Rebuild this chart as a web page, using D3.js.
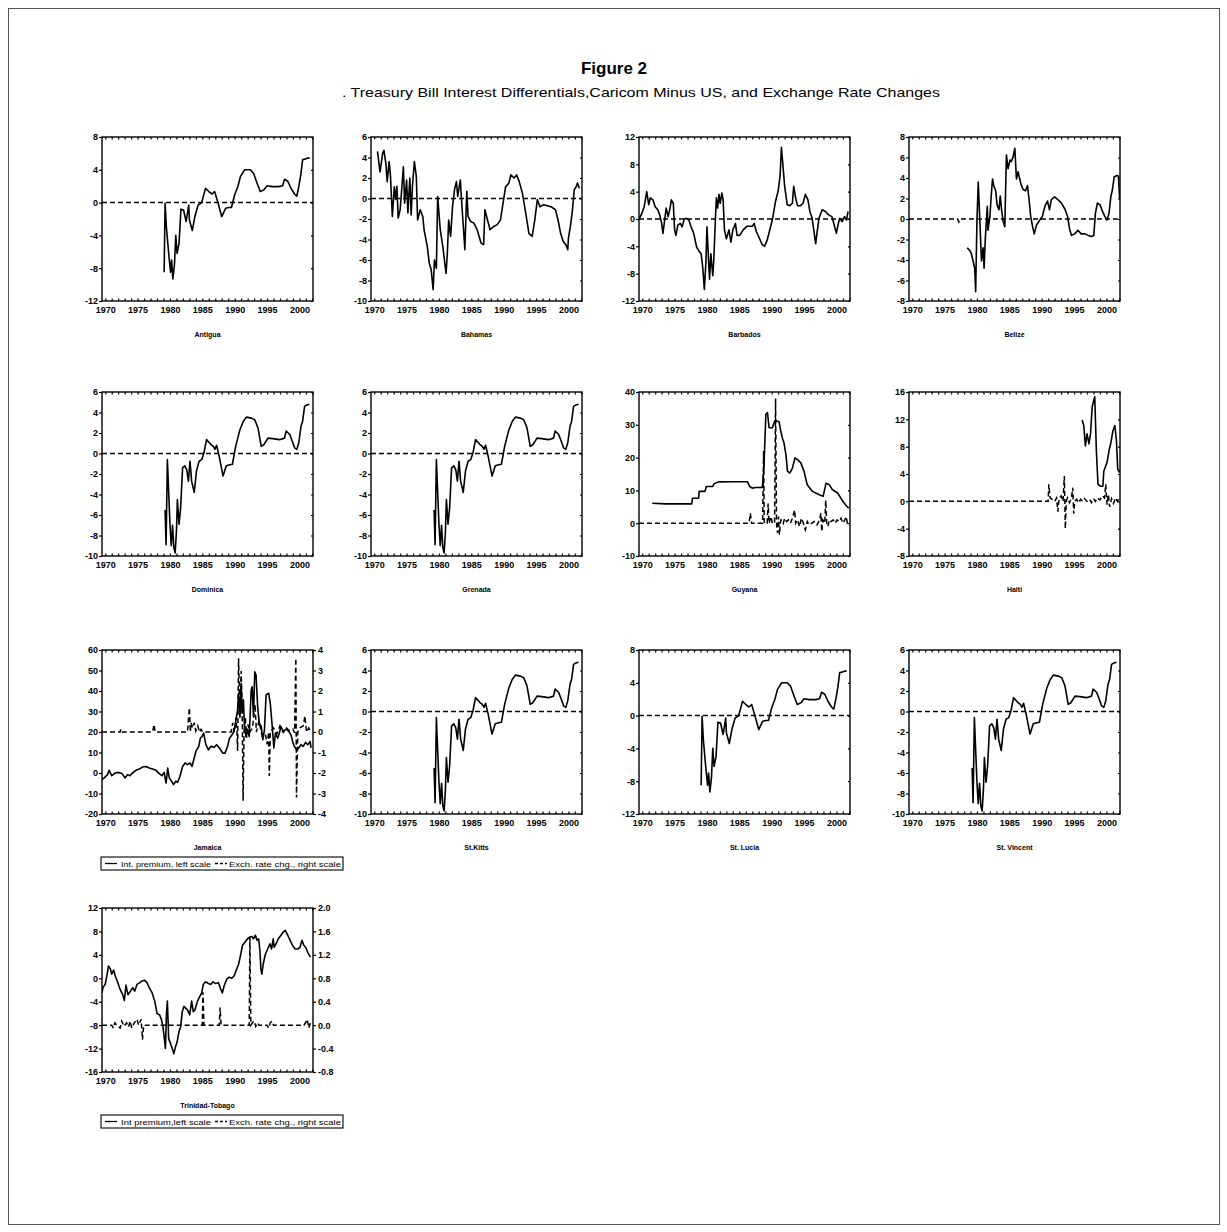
<!DOCTYPE html>
<html>
<head>
<meta charset="utf-8">
<script src="https://cdn.jsdelivr.net/npm/d3@7"></script>
<style>
  body { margin: 0; background: #fff; }
  text { font-family: "Liberation Sans", Arial, sans-serif; }
</style>
</head>
<body>
<svg width="1227" height="1232"></svg>
<script>
// ---- data: [year, value] ----
var pegged = [[1969.5, 0], [2002.1, 0]];

var antigua = [[1979.1,-8.5],[1979.25,-0.1],[1979.45,-3.0],[1979.85,-6.6],[1980.1,-8.5],[1980.25,-7.0],[1980.45,-9.3],[1980.7,-7.5],[1980.9,-4.0],[1981.1,-6.2],[1981.4,-5.0],[1981.7,-0.8],[1982.1,-0.9],[1982.5,-2.3],[1982.9,-0.3],[1983.0,-2.1],[1983.45,-3.4],[1983.85,-1.7],[1984.35,-0.3],[1984.9,0],[1985.5,1.75],[1986.0,1.35],[1986.5,1.05],[1986.9,1.35],[1987.3,0.3],[1988.0,-1.7],[1988.6,-0.7],[1989.1,-0.6],[1989.5,-0.6],[1990.0,0.95],[1990.5,2.0],[1990.9,3.2],[1991.55,4.0],[1992.4,4.0],[1992.9,3.6],[1993.45,2.4],[1993.95,1.35],[1994.5,1.55],[1995.0,2.05],[1995.8,1.95],[1996.8,1.95],[1997.4,2.05],[1997.7,2.85],[1998.2,2.6],[1998.7,1.75],[1999.25,1.05],[1999.6,0.8],[1999.95,2.15],[2000.25,3.6],[2000.5,5.25],[2000.9,5.3],[2001.3,5.45],[2001.6,5.4]];

var bahamas = [[1970.5,4.6],[1970.9,2.6],[1971.3,4.4],[1971.5,4.7],[1971.8,3.4],[1972.0,1.65],[1972.3,3.6],[1972.5,2.3],[1972.8,-1.75],[1973.1,1.15],[1973.3,-0.1],[1973.5,1.2],[1973.7,-1.9],[1974.0,-1.1],[1974.2,0.5],[1974.5,3.1],[1974.7,-0.45],[1975.0,1.8],[1975.2,-1.4],[1975.5,2.0],[1975.7,-1.6],[1975.9,1.2],[1976.2,3.6],[1976.5,2.15],[1976.7,-2.1],[1977.1,-1.1],[1977.5,-1.75],[1977.7,-3.05],[1978.2,-4.7],[1978.5,-6.3],[1978.8,-6.95],[1979.1,-8.9],[1979.3,-6.0],[1979.6,-6.8],[1979.8,0.2],[1980.2,-3.05],[1980.6,-4.7],[1980.9,-6.3],[1981.1,-7.3],[1981.3,-5.3],[1981.5,-2.1],[1981.8,-3.7],[1982.1,-0.8],[1982.4,0.85],[1982.7,1.65],[1982.9,0.2],[1983.3,1.8],[1983.5,-0.3],[1983.8,-3.05],[1984.0,-5.0],[1984.3,0.7],[1984.5,-1.75],[1984.9,-2.25],[1985.4,-2.4],[1985.9,-3.05],[1986.5,-4.35],[1986.9,-4.5],[1987.1,-1.1],[1987.5,-2.1],[1987.9,-3.05],[1988.5,-2.7],[1989.0,-2.55],[1989.5,-2.1],[1989.9,-0.45],[1990.3,1.15],[1990.8,1.5],[1991.1,2.3],[1991.6,2.0],[1992.0,2.3],[1992.4,1.65],[1992.9,0.5],[1993.4,-1.4],[1993.9,-3.4],[1994.4,-3.7],[1994.8,-2.1],[1995.2,-0.1],[1995.6,-0.8],[1996.2,-0.6],[1997.3,-0.8],[1998.0,-1.1],[1998.4,-2.1],[1998.8,-3.4],[1999.2,-4.2],[1999.6,-4.5],[1999.9,-5.0],[2000.0,-3.9],[2000.3,-2.75],[2000.6,-1.3],[2000.9,0.85],[2001.2,1.15],[2001.4,1.5],[2001.7,1.0]];

var barbados = [[1969.6,0.1],[1969.95,0.85],[1970.3,1.8],[1970.7,4.0],[1971.0,2.1],[1971.25,3.1],[1971.65,2.8],[1972.0,1.8],[1972.4,1.35],[1972.7,0.6],[1973.0,-0.65],[1973.2,-2.1],[1973.4,-0.65],[1973.7,1.6],[1974.0,0.35],[1974.3,1.6],[1974.5,2.8],[1974.8,2.3],[1975.0,-1.6],[1975.2,-2.4],[1975.5,-0.9],[1975.9,-0.65],[1976.15,-1.15],[1976.5,0],[1976.8,0.1],[1977.2,-0.15],[1977.55,-1.15],[1977.95,-2.1],[1978.4,-4.1],[1978.7,-4.6],[1979.1,-5.1],[1979.35,-7.1],[1979.6,-10.3],[1979.85,-6.1],[1980.0,-1.15],[1980.3,-7.1],[1980.4,-8.8],[1980.6,-5.1],[1980.9,-8.3],[1981.05,-6.1],[1981.3,-0.15],[1981.45,3.1],[1981.65,1.6],[1981.85,3.6],[1982.05,2.3],[1982.3,3.8],[1982.5,2.8],[1982.7,-1.6],[1983.0,-2.9],[1983.4,-1.6],[1983.7,-3.4],[1984.0,-1.6],[1984.4,-0.65],[1984.65,-2.4],[1985.05,-2.4],[1985.6,-1.6],[1986.2,-1.05],[1987.0,-1.05],[1987.3,-0.65],[1987.65,-1.9],[1988.0,-2.6],[1988.5,-3.7],[1988.9,-4.0],[1989.3,-3.1],[1989.7,-1.6],[1990.1,-0.15],[1990.6,2.6],[1991.0,4.1],[1991.3,6.3],[1991.5,10.5],[1991.7,8.3],[1992.0,4.8],[1992.4,2.1],[1992.8,1.95],[1993.2,2.3],[1993.4,4.8],[1993.7,3.1],[1994.0,1.95],[1994.45,1.95],[1994.85,2.3],[1995.2,3.6],[1995.6,2.8],[1995.9,1.1],[1996.25,0.1],[1996.5,-1.6],[1996.8,-3.6],[1997.0,-2.1],[1997.3,0.1],[1997.8,1.35],[1998.3,1.1],[1998.8,0.6],[1999.3,0.35],[1999.6,-0.65],[2000.0,-2.1],[2000.3,-0.65],[2000.5,0.1],[2000.9,-0.4],[2001.25,0.35],[2001.55,-0.15],[2001.8,1.1]];

var belize = [[1978.5,-2.8],[1978.9,-3.1],[1979.1,-3.3],[1979.4,-4.1],[1979.65,-4.8],[1979.8,-7.1],[1980.0,-0.1],[1980.2,3.6],[1980.4,0.55],[1980.7,-4.1],[1980.95,-2.8],[1981.1,-4.8],[1981.3,-1.8],[1981.6,1.25],[1981.7,-1.1],[1982.0,0.25],[1982.2,2.25],[1982.4,3.9],[1982.6,3.25],[1982.9,2.75],[1983.1,1.4],[1983.4,0.9],[1983.6,2.25],[1983.8,0.9],[1984.05,-0.25],[1984.3,-0.75],[1984.55,6.25],[1984.8,4.9],[1985.1,5.75],[1985.3,5.6],[1985.6,6.1],[1985.85,6.9],[1986.1,3.9],[1986.35,4.6],[1986.8,3.4],[1987.1,2.9],[1987.5,2.75],[1987.8,3.25],[1988.05,1.9],[1988.3,0.25],[1988.6,-0.75],[1988.85,-1.45],[1989.2,-0.6],[1989.7,-0.1],[1990.1,0.25],[1990.5,1.25],[1990.9,1.75],[1991.2,0.9],[1991.5,1.9],[1992.0,2.15],[1992.5,1.9],[1993.05,1.55],[1993.6,0.95],[1994.0,0.25],[1994.3,-0.95],[1994.6,-1.6],[1995.1,-1.45],[1995.6,-1.1],[1996.1,-1.45],[1996.7,-1.45],[1997.2,-1.6],[1997.7,-1.7],[1998.05,-1.6],[1998.3,0.55],[1998.6,1.55],[1999.0,1.4],[1999.4,0.75],[1999.75,0.25],[2000.1,-0.1],[2000.4,0.55],[2000.7,2.25],[2000.9,2.75],[2001.2,4.1],[2001.6,4.25],[2001.85,4.2],[2002.05,1.9]];
var belizeExch = [[1969.5,0],[1977.0,0],[1977.2,-0.3],[1977.4,0],[2002.1,0]];

var dominica = [[1979.25,-5.5],[1979.4,-8.9],[1979.6,-0.6],[1980.0,-6.9],[1980.2,-9.0],[1980.4,-7.0],[1980.6,-9.2],[1980.8,-9.7],[1981.0,-7.6],[1981.15,-4.5],[1981.4,-6.9],[1981.65,-5.3],[1981.95,-1.4],[1982.3,-1.2],[1982.6,-1.6],[1982.85,-2.7],[1983.1,-0.75],[1983.35,-2.7],[1983.75,-3.8],[1984.1,-1.7],[1984.5,-0.75],[1984.9,-0.6],[1985.25,0.05],[1985.65,1.35],[1986.3,0.9],[1986.7,0.7],[1986.95,0.4],[1987.2,0.8],[1987.6,-0.25],[1988.2,-2.2],[1988.7,-1.2],[1989.25,-1.1],[1989.65,-1.05],[1990.15,0.7],[1990.8,2.3],[1991.3,3.1],[1991.8,3.55],[1992.6,3.45],[1993.1,3.3],[1993.6,2.5],[1994.1,0.7],[1994.5,0.85],[1995.15,1.5],[1995.9,1.45],[1996.9,1.35],[1997.7,1.5],[1997.95,2.2],[1998.5,1.85],[1998.9,1.2],[1999.25,0.55],[1999.6,0.4],[1999.9,1.05],[2000.25,2.65],[2000.5,3.15],[2000.8,4.6],[2001.05,4.7],[2001.55,4.8]];
// Grenada, St. Kitts and St. Vincent plot the same ECCB series as Dominica
var grenada = dominica, stKitts = dominica, stVincent = dominica;
var stLucia = antigua;

var guyana = [[1971.55,6.1],[1973.6,5.9],[1977.65,5.9],[1977.75,7.6],[1978.7,7.6],[1978.8,9.7],[1979.7,9.7],[1979.9,11.2],[1980.9,11.2],[1981.1,12.0],[1981.8,12.6],[1983.9,12.65],[1986.25,12.65],[1986.6,11.2],[1987.0,10.7],[1987.55,10.9],[1988.55,10.9],[1988.8,16.8],[1989.1,33.2],[1989.35,33.7],[1989.6,29.1],[1990.1,29.1],[1990.5,31.3],[1991.15,30.9],[1991.4,28.1],[1991.65,26],[1991.9,24.5],[1992.2,20.9],[1992.45,15.8],[1992.8,15.3],[1993.2,16.8],[1993.6,19.9],[1994.0,19.4],[1994.5,18.4],[1995.0,15.8],[1995.5,11.7],[1996.3,9.7],[1997.35,8.7],[1997.95,8.2],[1998.4,12.2],[1998.9,11.7],[1999.4,10.2],[2000.2,9.2],[2000.85,7.1],[2001.5,5.4],[2001.9,4.6]];
var guyanaExch = [[1969.5,0],[1986.5,0],[1986.7,3],[1986.9,0],[1988.6,0],[1988.75,22],[1988.85,0],[1989.3,0],[1989.45,6],[1989.6,0],[1989.9,2],[1990.1,0],[1990.45,0],[1990.6,38],[1990.75,0],[1990.9,-3],[1991.05,2],[1991.2,-3.5],[1991.4,1],[1991.6,1],[1991.8,0],[1992.0,1.5],[1992.3,0.5],[1992.6,1],[1992.9,0],[1993.2,1.5],[1993.4,3],[1993.55,4],[1993.7,0],[1994.0,1],[1994.3,-1],[1994.6,1.5],[1994.9,0],[1995.2,-2],[1995.5,0.5],[1995.8,-0.5],[1996.2,0],[1996.6,0.5],[1997.0,-0.5],[1997.4,1],[1997.6,3],[1997.75,-2.5],[1997.9,1],[1998.2,0],[1998.35,7],[1998.5,0],[1998.7,-1],[1998.9,1],[1999.2,0.5],[1999.5,1],[1999.8,0],[2000.1,1],[2000.4,0.5],[2000.7,1.5],[2001.0,0],[2001.3,1],[2001.5,2],[2001.7,0],[2002.0,0.5]];

var haiti = [[1996.25,11.9],[1996.5,11.1],[1996.75,8.1],[1997.0,9.9],[1997.3,8.4],[1997.55,9.9],[1997.8,13.8],[1998.05,14.8],[1998.2,15.3],[1998.45,7.4],[1998.7,2.5],[1999.1,2.2],[1999.45,2.2],[1999.6,4.4],[1999.9,5.2],[2000.1,5.7],[2000.4,7.4],[2000.7,8.6],[2001.0,10.3],[2001.3,11.1],[2001.55,8.9],[2001.75,4.7],[2002.05,4.2]];
var haitiExch = [[1969.5,0],[1991.0,0],[1991.1,2.5],[1991.3,0.5],[1991.6,0.3],[1992.0,0],[1992.3,0.5],[1992.5,-1.5],[1992.7,0.5],[1993.0,0.8],[1993.3,0],[1993.5,3.7],[1993.65,-4],[1993.8,0],[1994.0,0.5],[1994.3,-0.2],[1994.6,0.5],[1994.8,2],[1994.95,-1.8],[1995.1,0],[1995.4,0.3],[1995.7,-0.2],[1996.0,0.3],[1996.3,0],[1996.6,0.4],[1997.0,0],[1997.4,0.3],[1997.7,-0.2],[1998.0,0.4],[1998.3,0],[1998.6,0.5],[1999.0,0.2],[1999.4,0.8],[1999.7,0.5],[1999.9,2.5],[2000.1,-0.5],[2000.3,1],[2000.5,-0.8],[2000.8,0.4],[2001.1,-0.3],[2001.4,0.5],[2001.7,0],[2002.0,0.6]];

var jamaica = [[1969.5,-3.2],[1969.85,-2.4],[1970.35,-0.8],[1970.6,1.3],[1971.0,-1.3],[1971.55,0],[1972.05,0.3],[1972.6,-0.3],[1973.05,-2.4],[1973.45,-0.8],[1973.8,-1.3],[1974.2,0],[1974.75,1.3],[1975.25,1.9],[1975.75,2.9],[1976.3,3.2],[1976.8,2.4],[1977.3,1.9],[1977.85,1.3],[1978.35,-0.3],[1978.75,-1.3],[1979.1,0.3],[1979.4,-4.9],[1979.65,2.4],[1979.9,-2.4],[1980.25,-4.0],[1980.55,-5.7],[1980.9,-4.0],[1981.2,-4.5],[1981.55,-1.6],[1981.95,3.2],[1982.35,4.9],[1982.7,4.1],[1983.1,4.9],[1983.4,3.2],[1983.75,7.3],[1984.0,10.5],[1984.45,13],[1984.7,17],[1984.95,17.8],[1985.2,19.5],[1985.55,13.8],[1985.95,11.3],[1986.35,13],[1986.85,12.6],[1987.2,13.8],[1987.65,12.2],[1988.15,9.7],[1988.5,9.7],[1988.9,13],[1989.2,17],[1989.6,18.6],[1989.95,21],[1990.2,25.9],[1990.45,30.8],[1990.6,38.9],[1990.8,27.6],[1991.0,43.8],[1991.15,29.2],[1991.35,35.7],[1991.5,22.7],[1991.75,17.8],[1992.0,21],[1992.25,17.8],[1992.55,40.5],[1992.7,42.1],[1992.9,27.6],[1993.1,49.4],[1993.3,47.8],[1993.55,32.4],[1993.8,24.3],[1994.1,22.7],[1994.35,16.2],[1994.6,21],[1994.85,38.1],[1995.25,38.9],[1995.5,34],[1995.8,22.7],[1996.05,12.2],[1996.3,19.5],[1996.65,17],[1996.9,19.5],[1997.15,22.7],[1997.5,20.3],[1997.95,21.4],[1998.35,20.3],[1998.7,18.6],[1998.95,15.4],[1999.2,13],[1999.6,11.3],[1999.9,12.2],[2000.25,13.8],[2000.6,13],[2000.95,14.9],[2001.3,13.8],[2001.65,15.4],[2001.8,12.2]];
var jamaicaExch = [[1969.5,0],[1972.3,0],[1972.4,0.13],[1972.5,0],[1977.3,0],[1977.55,0.37],[1977.7,0],[1982.7,0],[1983.0,1.18],[1983.15,0],[1983.25,0.45],[1983.5,0.2],[1983.75,0.45],[1984.0,0.05],[1984.3,0.3],[1984.55,0],[1984.8,0.13],[1985.05,0],[1989.45,0],[1989.7,0.45],[1989.95,0],[1990.2,0.7],[1990.35,0],[1990.45,-0.92],[1990.6,3.6],[1990.7,2.3],[1990.8,0.7],[1991.0,2.97],[1991.15,1.35],[1991.3,-3.35],[1991.45,0.05],[1991.65,0.7],[1991.85,-0.28],[1992.05,0.37],[1992.35,0],[1992.75,0.2],[1993.15,1.35],[1993.35,0],[1993.75,0.53],[1994.25,-0.2],[1994.75,-0.1],[1995.0,-0.6],[1995.25,0],[1995.35,-2.14],[1995.5,0],[1996.0,0.2],[1996.5,-0.1],[1997.0,0.3],[1997.5,-0.03],[1998.0,0.2],[1998.5,0.05],[1999.0,0.13],[1999.25,-0.03],[1999.45,3.6],[1999.55,-3.2],[1999.75,0],[2000.1,0.2],[2000.6,0.3],[2000.85,0.78],[2001.1,0],[2001.45,0.2],[2001.7,0]];

var trinidad = [[1969.5,-2.5],[1969.65,-1.6],[1970.0,-1.0],[1970.25,0.4],[1970.5,2.1],[1970.8,1.6],[1971.0,0.7],[1971.3,1.4],[1971.55,0.4],[1971.95,-0.75],[1972.3,-1.9],[1972.7,-2.8],[1972.95,-3.8],[1973.2,-1.15],[1973.5,-2.8],[1973.9,-2.2],[1974.25,-1.6],[1974.55,-2.2],[1974.9,-1.05],[1975.35,-0.75],[1975.7,-0.45],[1976.1,-0.35],[1976.45,-0.75],[1976.8,-1.6],[1977.25,-2.5],[1977.65,-3.9],[1978.0,-6.0],[1978.4,-6.25],[1978.7,-7.1],[1978.95,-8.55],[1979.2,-10.9],[1979.3,-12.0],[1979.45,-6.25],[1979.6,-3.9],[1979.75,-8.55],[1979.8,-10.3],[1980.1,-11.2],[1980.35,-12.0],[1980.6,-12.9],[1980.85,-11.7],[1981.1,-10.9],[1981.4,-9.1],[1981.65,-8.3],[1981.9,-5.7],[1982.15,-4.8],[1982.7,-5.4],[1983.05,-6.25],[1983.35,-3.9],[1983.6,-5.7],[1983.85,-5.4],[1984.25,-3.9],[1984.5,-3.35],[1984.9,-2.5],[1985.15,-1.05],[1985.5,-0.6],[1985.95,-0.9],[1986.3,-1.05],[1986.65,-0.6],[1987.05,-0.9],[1987.5,-0.75],[1987.85,-1.9],[1988.1,-2.5],[1988.35,-1.35],[1988.75,-0.2],[1989.15,0.2],[1989.55,0],[1989.9,0.4],[1990.3,1.55],[1990.6,2.4],[1990.95,4.15],[1991.2,5.6],[1991.6,6.2],[1992.0,6.75],[1992.35,7.05],[1992.65,7.15],[1992.9,6.75],[1993.2,7.35],[1993.45,6.5],[1993.7,6.75],[1993.9,4.7],[1994.05,1.55],[1994.2,0.7],[1994.4,2.4],[1994.75,4.15],[1995.1,5.0],[1995.45,5.9],[1995.7,5.0],[1995.95,6.75],[1996.1,5.3],[1996.4,5.9],[1996.75,6.75],[1997.15,7.35],[1997.5,7.9],[1997.8,8.2],[1998.2,7.35],[1998.55,6.5],[1998.95,5.6],[1999.35,5.0],[1999.75,5.0],[2000.1,5.3],[2000.4,6.5],[2000.7,5.6],[2000.95,5.3],[2001.3,4.4],[2001.7,3.6]];
var trinidadExch = [[1969.5,0],[1971.0,0],[1971.25,-0.05],[1971.5,0.04],[1971.8,0],[1972.3,-0.05],[1972.55,0.07],[1972.9,-0.02],[1973.3,0.04],[1973.6,-0.03],[1973.85,0.07],[1974.1,-0.05],[1974.5,0.04],[1974.9,0.1],[1975.15,0],[1975.55,0.1],[1975.75,-0.25],[1975.95,0],[1985.0,0],[1985.1,0.56],[1985.25,0],[1987.6,0],[1987.75,0.3],[1987.9,0],[1992.25,0],[1992.35,1.49],[1992.5,0],[1992.75,0.04],[1993.0,0.07],[1993.25,-0.02],[1993.5,0.04],[1993.75,0],[1995.0,0],[1995.25,-0.05],[1995.5,0.04],[1995.75,0.07],[1996.0,0],[2000.7,0],[2000.95,0.04],[2001.2,0.1],[2001.45,-0.05],[2001.7,0.04]];

// axis years
var yearLabels = [1970, 1975, 1980, 1985, 1990, 1995, 2000];
var yearTicks = d3.range(1970, 2003);

var panels = [
  { name: "Antigua", col: 0, row: 0, yDomain: [-12, 8], yTicks: [-12, -8, -4, 0, 4, 8], solid: antigua, dash: pegged },
  { name: "Bahamas", col: 1, row: 0, yDomain: [-10, 6], yTicks: [-10, -8, -6, -4, -2, 0, 2, 4, 6], solid: bahamas, dash: pegged },
  { name: "Barbados", col: 2, row: 0, yDomain: [-12, 12], yTicks: [-12, -8, -4, 0, 4, 8, 12], solid: barbados, dash: pegged },
  { name: "Belize", col: 3, row: 0, yDomain: [-8, 8], yTicks: [-8, -6, -4, -2, 0, 2, 4, 6, 8], solid: belize, dash: belizeExch },
  { name: "Dominica", col: 0, row: 1, yDomain: [-10, 6], yTicks: [-10, -8, -6, -4, -2, 0, 2, 4, 6], solid: dominica, dash: pegged },
  { name: "Grenada", col: 1, row: 1, yDomain: [-10, 6], yTicks: [-10, -8, -6, -4, -2, 0, 2, 4, 6], solid: grenada, dash: pegged },
  { name: "Guyana", col: 2, row: 1, yDomain: [-10, 40], yTicks: [-10, 0, 10, 20, 30, 40], solid: guyana, dash: guyanaExch },
  { name: "Haiti", col: 3, row: 1, yDomain: [-8, 16], yTicks: [-8, -4, 0, 4, 8, 12, 16], solid: haiti, dash: haitiExch },
  { name: "Jamaica", col: 0, row: 2, yDomain: [-20, 60], yTicks: [-20, -10, 0, 10, 20, 30, 40, 50, 60], solid: jamaica, dash: jamaicaExch,
    rDomain: [-4, 4], rTicks: [-4, -3, -2, -1, 0, 1, 2, 3, 4], legend: ["Int. premium, left scale", "Exch. rate chg., right scale"] },
  { name: "St.Kitts", col: 1, row: 2, yDomain: [-10, 6], yTicks: [-10, -8, -6, -4, -2, 0, 2, 4, 6], solid: stKitts, dash: pegged },
  { name: "St. Lucia", col: 2, row: 2, yDomain: [-12, 8], yTicks: [-12, -8, -4, 0, 4, 8], solid: stLucia, dash: pegged },
  { name: "St. Vincent", col: 3, row: 2, yDomain: [-10, 6], yTicks: [-10, -8, -6, -4, -2, 0, 2, 4, 6], solid: stVincent, dash: pegged },
  { name: "Trinidad-Tobago", col: 0, row: 3, yDomain: [-16, 12], yTicks: [-16, -12, -8, -4, 0, 4, 8, 12], solid: trinidad, dash: trinidadExch,
    rDomain: [-0.8, 2.0], rTicks: [-0.8, -0.4, 0, 0.4, 0.8, 1.2, 1.6, 2.0], rFormat: function (d) { return d.toFixed(1); },
    legend: ["Int premium,left scale", "Exch. rate chg., right scale"] }
];

// ---- layout ----
var svg = d3.select("svg");
var colX = [102, 371, 639, 909],
    rowY = [137, 392, 650, 908];
var pw = 211, ph = 164;

svg.append("rect")
    .attr("x", 8.5).attr("y", 8.5).attr("width", 1211).attr("height", 1216)
    .attr("fill", "none").attr("stroke", "#555").attr("stroke-width", 1);

svg.append("text")
    .attr("x", 614).attr("y", 74)
    .attr("text-anchor", "middle")
    .style("font-size", "17px").style("font-weight", "bold")
    .text("Figure 2");

svg.append("text")
    .attr("x", 342).attr("y", 97)
    .attr("textLength", 598).attr("lengthAdjust", "spacingAndGlyphs")
    .style("font-size", "13px")
    .text(". Treasury Bill Interest Differentials,Caricom Minus US, and Exchange Rate Changes");

var x = d3.scaleLinear().domain([1969.5, 2002.1]).range([0, pw]);
var fmt = function (d) { return String(d); };

panels.forEach(function (p, i) {
    var g = svg.append("g").attr("transform", "translate(" + colX[p.col] + "," + rowY[p.row] + ")");
    var y = d3.scaleLinear().domain(p.yDomain).range([ph, 0]);
    var yR = p.rDomain ? d3.scaleLinear().domain(p.rDomain).range([ph, 0]) : y;

    g.append("clipPath").attr("id", "clip" + i)
        .append("rect").attr("width", pw).attr("height", ph);

    // minor year ticks, inside the box top and bottom
    g.append("g").attr("class", "ax").attr("transform", "translate(0," + ph + ")")
        .call(d3.axisBottom(x).tickValues(yearTicks).tickSize(-2.5).tickFormat(""));
    g.append("g").attr("class", "ax")
        .call(d3.axisTop(x).tickValues(yearTicks).tickSize(-2.5).tickFormat(""));
    g.append("g").attr("class", "ax lab").attr("transform", "translate(0," + ph + ")")
        .call(d3.axisBottom(x).tickValues(yearLabels).tickSize(0).tickPadding(6).tickFormat(fmt));

    g.append("g").attr("class", "ax lab")
        .call(d3.axisLeft(y).tickValues(p.yTicks).tickSize(3).tickPadding(1).tickFormat(fmt));

    if (p.rDomain) {
        g.append("g").attr("class", "ax lab").attr("transform", "translate(" + pw + ",0)")
            .call(d3.axisRight(yR).tickValues(p.rTicks).tickSize(3).tickPadding(2).tickFormat(p.rFormat || fmt));
    } else {
        g.append("g").attr("class", "ax").attr("transform", "translate(" + pw + ",0)")
            .call(d3.axisRight(y).tickValues(p.yTicks).tickSize(-2).tickFormat(""));
    }

    g.selectAll(".ax .domain").remove();
    g.selectAll(".ax line").attr("stroke", "#000").attr("stroke-width", 1.2);
    g.selectAll(".lab text")
        .attr("fill", "#000")
        .style("font-family", '"Liberation Sans", Arial, sans-serif')
        .style("font-size", "9px").style("font-weight", "bold");

    g.append("rect").attr("width", pw).attr("height", ph)
        .attr("fill", "none").attr("stroke", "#000").attr("stroke-width", 1.4);

    var lineL = d3.line().x(function (d) { return x(d[0]); }).y(function (d) { return y(d[1]); });
    var lineR = d3.line().x(function (d) { return x(d[0]); }).y(function (d) { return yR(d[1]); });

    var plot = g.append("g").attr("clip-path", "url(#clip" + i + ")");
    plot.append("path").datum(p.dash)
        .attr("d", lineR).attr("fill", "none")
        .attr("stroke", "#000").attr("stroke-width", 1.5)
        .attr("stroke-dasharray", "5,3");
    plot.append("path").datum(p.solid)
        .attr("d", lineL).attr("fill", "none")
        .attr("stroke", "#000").attr("stroke-width", 1.6)
        .attr("stroke-linejoin", "round");

    g.append("text")
        .attr("x", pw / 2).attr("y", ph + 36)
        .attr("text-anchor", "middle")
        .style("font-size", "7px").style("font-weight", "bold")
        .text(p.name);

    if (p.legend) {
        var lg = g.append("g").attr("transform", "translate(-1," + (ph + 43) + ")");
        lg.append("rect").attr("width", 242).attr("height", 13)
            .attr("fill", "none").attr("stroke", "#000").attr("stroke-width", 1.1);
        lg.append("line").attr("x1", 4).attr("x2", 16).attr("y1", 6.5).attr("y2", 6.5)
            .attr("stroke", "#000").attr("stroke-width", 1.3);
        lg.append("text").attr("x", 20).attr("y", 9.5)
            .attr("textLength", 90).attr("lengthAdjust", "spacingAndGlyphs")
            .style("font-size", "7.5px").text(p.legend[0]);
        lg.append("line").attr("x1", 114).attr("x2", 126).attr("y1", 6.5).attr("y2", 6.5)
            .attr("stroke", "#000").attr("stroke-width", 1.3).attr("stroke-dasharray", "3,2");
        lg.append("text").attr("x", 128).attr("y", 9.5)
            .attr("textLength", 112).attr("lengthAdjust", "spacingAndGlyphs")
            .style("font-size", "7.5px").text(p.legend[1]);
    }
});
</script>
</body>
</html>
